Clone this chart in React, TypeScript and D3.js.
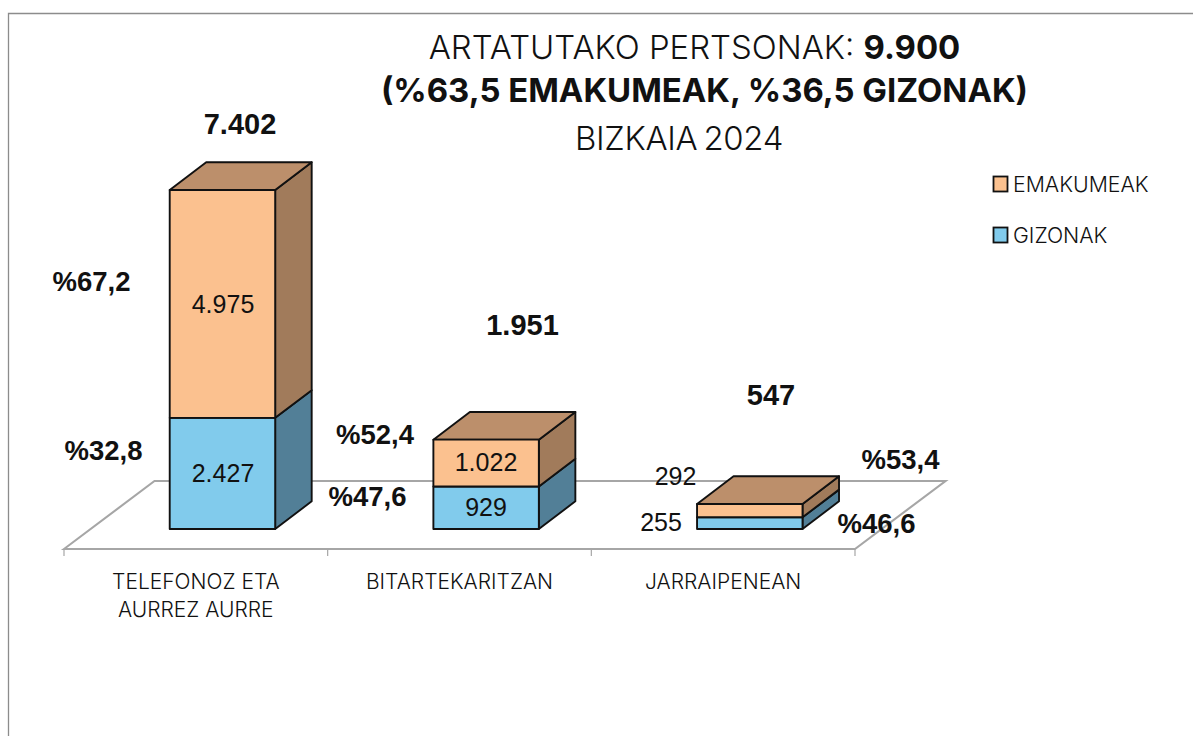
import React from "react";
import * as d3 from "d3";

const categories = ["TELEFONOZ ETA|AURREZ AURRE", "BITARTEKARITZAN", "JARRAIPENEAN"];
const gizonak = [2427, 929, 255];
const emakumeak = [4975, 1022, 292];
const pctGizonak = ["%32,8", "%47,6", "%46,6"];
const pctEmakumeak = ["%67,2", "%52,4", "%53,4"];
const legendLabels = ["EMAKUMEAK", "GIZONAK"];

// layout only: anchors of the free floating labels [x, baseline]
const totalPos = [[240, 134], [522.5, 335], [771, 405]];
const pctEPos = [[91.5, 291], [375, 444], [900.5, 469]];
const pctGPos = [[103.5, 460], [367.5, 506], [876.5, 533]];
const innerEPos = [[223, 313], [486, 471], [675.5, 485]];
const innerGPos = [[223, 482], [486, 516], [661, 531]];

const W = 1193, H = 736;
const baseY = 529, topY = 190;
const dx = 36.5, dy = 27.7;
const floorFrontY = 549, floorBackY = 481, floorL = 64, floorR = 855, floorDx = 90.5;

const COLORS = {
  e: "#FBC18F", eSide: "#A17B5B", top: "#BC8F6B",
  g: "#81CBEC", gSide: "#527F97",
};
const SANS = "Inter, 'Noto Sans', sans-serif";
const ARIAL = "'Liberation Sans', Arial, sans-serif";
const TXT = "#111";

const fmt = d3.formatLocale({ decimal: ",", thousands: ".", grouping: [3], currency: ["", ""] }).format(",d");

export default function App() {
  const totals = categories.map((_, i) => gizonak[i] + emakumeak[i]);
  const y = d3.scaleLinear().domain([0, d3.max(totals)!]).range([baseY, topY]);
  const floorX = d3.scaleBand<string>().domain(categories).range([floorL, floorR]);
  const shift = ((floorFrontY - baseY) / (floorFrontY - floorBackY)) * floorDx;
  const x = d3.scaleBand<string>().domain(categories)
    .range([floorL + shift, floorR + shift]).paddingInner(0.6).paddingOuter(0.3);
  const poly = d3.line<[number, number]>().curve(d3.curveLinearClosed);
  const ticks = [...categories.map((c) => floorX(c)!), floorR];

  return (
    <svg width={W} height={H} viewBox={`0 0 ${W} ${H}`}
      style={{ position: "absolute", left: 0, top: 0, background: "#fff" }}>
      <path d={`M8.5 736V13.5H1193`} fill="none" stroke="#8c8c8c" strokeWidth={1.3} />

      <path d={poly([[floorL, floorFrontY], [floorL + floorDx, floorBackY], [floorR + floorDx, floorBackY], [floorR, floorFrontY]])!}
        fill="#fff" stroke="#a6a6a6" strokeWidth={2.1} />
      {ticks.map((t, i) => (
        <line key={i} x1={t} x2={t} y1={floorFrontY} y2={556} stroke="#a6a6a6" strokeWidth={1.2} />
      ))}

      {categories.map((c, i) => {
        const x0 = x(c)!, x1 = x0 + x.bandwidth();
        const yB = y(0), yM = y(gizonak[i]), yT = y(totals[i]);
        return (
          <g key={c} stroke="#111" strokeWidth={1.9} strokeLinejoin="round">
            <path d={poly([[x1, yB], [x1 + dx, yB - dy], [x1 + dx, yM - dy], [x1, yM]])!} fill={COLORS.gSide} />
            <path d={poly([[x1, yM], [x1 + dx, yM - dy], [x1 + dx, yT - dy], [x1, yT]])!} fill={COLORS.eSide} />
            <path d={poly([[x0, yT], [x0 + dx, yT - dy], [x1 + dx, yT - dy], [x1, yT]])!} fill={COLORS.top} />
            <rect x={x0} y={yM} width={x1 - x0} height={yB - yM} fill={COLORS.g} />
            <rect x={x0} y={yT} width={x1 - x0} height={yM - yT} fill={COLORS.e} />
          </g>
        );
      })}

      <g fontFamily={ARIAL} fill={TXT} textAnchor="middle">
        {totals.map((t, i) => (
          <text key={i} x={totalPos[i][0]} y={totalPos[i][1]} fontSize={29} fontWeight={700}>{fmt(t)}</text>
        ))}
        {pctEmakumeak.map((t, i) => (
          <text key={i} x={pctEPos[i][0]} y={pctEPos[i][1]} fontSize={27.5} fontWeight={700}>{t}</text>
        ))}
        {pctGizonak.map((t, i) => (
          <text key={i} x={pctGPos[i][0]} y={pctGPos[i][1]} fontSize={27.5} fontWeight={700}>{t}</text>
        ))}
        {emakumeak.map((v, i) => (
          <text key={i} x={innerEPos[i][0]} y={innerEPos[i][1]} fontSize={25}>{fmt(v)}</text>
        ))}
        {gizonak.map((v, i) => (
          <text key={i} x={innerGPos[i][0]} y={innerGPos[i][1]} fontSize={25}>{fmt(v)}</text>
        ))}
      </g>

      <g fontFamily={SANS} fill={TXT} textAnchor="middle">
        <text x={694.5} y={59} fontSize={32.9} fontWeight={300}>ARTATUTAKO PERTSONAK: <tspan fontWeight={700}>9.900</tspan></text>
        <text x={704.5} y={102} fontSize={32.9} fontWeight={700}>(%63,5 EMAKUMEAK, %36,5 GIZONAK)</text>
        <text x={679} y={150} fontSize={32.9} fontWeight={300} wordSpacing={-3} letterSpacing={-0.3}>BIZKAIA 2024</text>
        {categories.map((c, i) => {
          const cx = floorX(c)! + floorX.bandwidth() / 2;
          return c.split("|").map((line, k) => (
            <text key={line} x={cx} y={589 + k * 28} fontSize={21} fontWeight={300}>{line}</text>
          ));
        })}
      </g>

      {legendLabels.map((l, i) => {
        const ly = 184 + i * 51;
        return (
          <g key={l}>
            <rect x={993.5} y={ly - 7.5} width={14} height={15} fill={i === 0 ? COLORS.e : COLORS.g} stroke="#111" strokeWidth={1.8} />
            <text x={1013} y={ly + 7.5} fontFamily={SANS} fontSize={21.3} fontWeight={300} fill={TXT}>{l}</text>
          </g>
        );
      })}
    </svg>
  );
}
